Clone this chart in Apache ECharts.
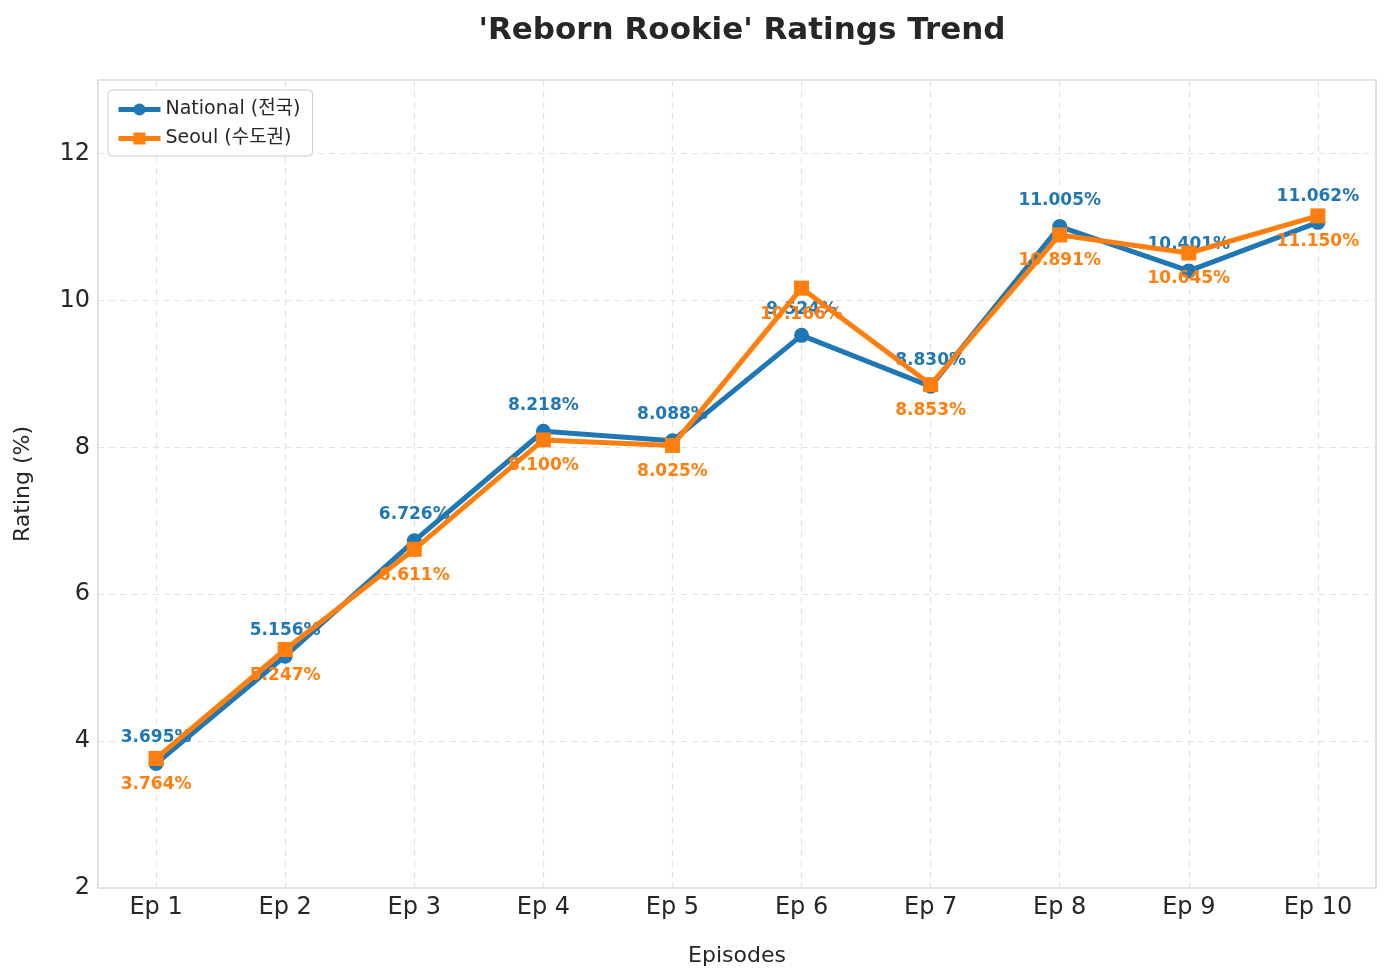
<!DOCTYPE html>
<html>
<head>
<meta charset="utf-8">
<script src="https://cdn.jsdelivr.net/npm/echarts@6/dist/echarts.min.js"></script>
<style>
  html, body { margin: 0; padding: 0; background: #fff; }
  #chart { width: 1391px; height: 979px; }
</style>
</head>
<body>
<div id="chart"></div>
<script>
const episodes = ['Ep 1', 'Ep 2', 'Ep 3', 'Ep 4', 'Ep 5', 'Ep 6', 'Ep 7', 'Ep 8', 'Ep 9', 'Ep 10']
const national = [3.695, 5.156, 6.726, 8.218, 8.088, 9.524, 8.830, 11.005, 10.401, 11.062]
const seoul = [3.764, 5.247, 6.611, 8.100, 8.025, 10.166, 8.853, 10.891, 10.645, 11.150]
const epPositions = episodes.map((_, i) => i + 1)

const FONT = "'DejaVu Sans', 'Noto Sans CJK KR', sans-serif"

const chart = echarts.init(document.getElementById('chart'))

// [x, y] pairs so the x axis can be a value axis with matplotlib-like padding
const toPoints = (vals) => vals.map((v, i) => [epPositions[i], v])

const option = {
  backgroundColor: '#fff',
  animation: false,
  textStyle: { fontFamily: FONT },
  title: {
    text: "'Reborn Rookie' Ratings Trend",
    left: 737,
    top: 10,
    textAlign: 'center',
    textStyle: { fontSize: 31, fontWeight: 'bold', color: '#262626', fontFamily: FONT },
  },
  legend: {
    left: 108,
    top: 90,
    orient: 'vertical',
    itemWidth: 42,
    itemHeight: 15,
    itemGap: 10,
    padding: [10, 12, 8, 8],
    borderColor: '#cccccc',
    borderWidth: 1,
    borderRadius: 4,
    backgroundColor: 'rgba(255,255,255,0.85)',
    lineStyle: { width: 5 },
    textStyle: { fontSize: 19, color: '#262626', fontFamily: FONT },
    data: ['National (전국)', 'Seoul (수도권)'],
  },
  grid: {
    left: 98,
    right: 15,
    top: 80,
    bottom: 91,
    show: true,
    borderColor: '#cccccc',
    borderWidth: 1.2,
  },
  xAxis: {
    type: 'value',
    min: 0.55,
    max: 10.45,
    name: 'Episodes',
    nameLocation: 'middle',
    nameGap: 57,
    nameTextStyle: { fontSize: 22, color: '#262626', fontFamily: FONT },
    axisLine: { show: false },
    axisTick: { show: false, customValues: epPositions },
    axisLabel: {
      customValues: epPositions,
      fontSize: 24,
      color: '#262626',
      margin: 8,
      formatter: (v) => episodes[Math.round(v) - 1] || '',
    },
    splitLine: {
      show: true,
      lineStyle: { type: [6, 5], color: '#e2e2e2', width: 1.2 },
    },
  },
  yAxis: {
    type: 'value',
    min: 2,
    max: 13,
    interval: 2,
    name: 'Rating (%)',
    nameLocation: 'middle',
    nameGap: 64,
    nameTextStyle: { fontSize: 22, color: '#262626', fontFamily: FONT },
    axisLine: { show: false },
    axisTick: { show: false },
    axisLabel: { fontSize: 24, color: '#262626', margin: 8, showMaxLabel: false },
    splitLine: {
      show: true,
      lineStyle: { type: [6, 5], color: '#e2e2e2', width: 1.2 },
    },
  },
  series: [
    {
      name: 'National (전국)',
      type: 'line',
      data: toPoints(national),
      symbol: 'circle',
      symbolSize: 15,
      lineStyle: { color: '#1f77b4', width: 5 },
      itemStyle: { color: '#1f77b4' },
      z: 3,
      label: {
        show: true,
        position: 'top',
        distance: 10,
        fontSize: 17,
        fontWeight: 'bold',
        color: '#1f77b4',
        formatter: (p) => p.value[1].toFixed(3) + '%',
      },
    },
    {
      name: 'Seoul (수도권)',
      type: 'line',
      data: toPoints(seoul),
      symbol: 'rect',
      symbolSize: 15,
      lineStyle: { color: '#ff7f0e', width: 5 },
      itemStyle: { color: '#ff7f0e' },
      z: 4,
      label: {
        show: true,
        position: 'bottom',
        distance: 10,
        fontSize: 17,
        fontWeight: 'bold',
        color: '#ff7f0e',
        formatter: (p) => p.value[1].toFixed(3) + '%',
      },
    },
  ],
}

chart.setOption(option)
</script>
</body>
</html>
